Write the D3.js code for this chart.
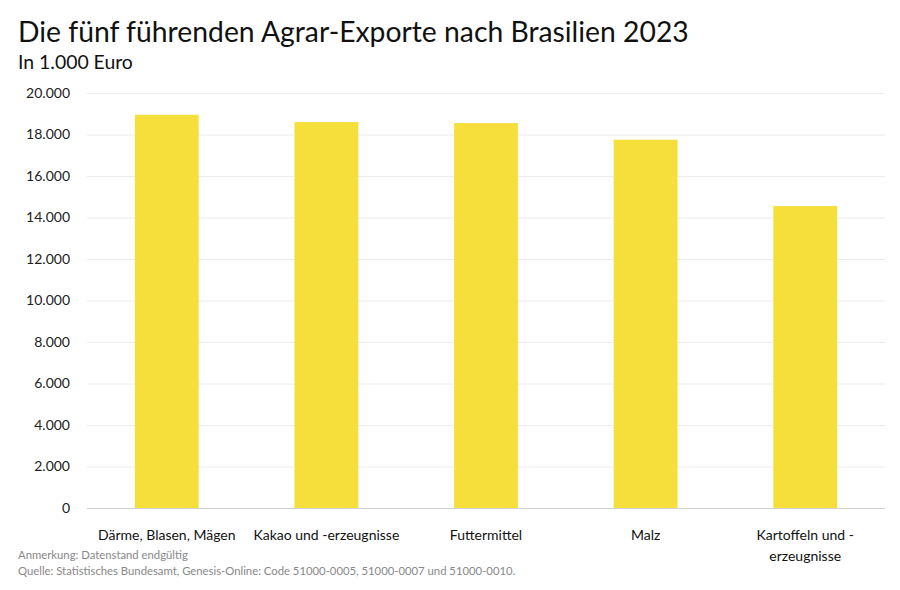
<!DOCTYPE html>
<html><head><meta charset="utf-8">
<script src="https://cdn.jsdelivr.net/npm/d3@7"></script>
<style>body{margin:0;background:#fff}svg{display:block}text{font-family:Lato,"Noto Sans",sans-serif}</style>
</head><body><svg id="c" width="900" height="590"></svg>
<script>
const categories = ["Därme, Blasen, Mägen","Kakao und -erzeugnisse","Futtermittel","Malz","Kartoffeln und -erzeugnisse"];
const categoryLines = [["Därme, Blasen, Mägen"],["Kakao und -erzeugnisse"],["Futtermittel"],["Malz"],["Kartoffeln und -","erzeugnisse"]];
const values = [18950, 18600, 18550, 17750, 14550];
const yTicks = [0,2000,4000,6000,8000,10000,12000,14000,16000,18000,20000];
const title = "Die fünf führenden Agrar-Exporte nach Brasilien 2023";
const subtitle = "In 1.000 Euro";
const notes = ["Anmerkung: Datenstand endgültig","Quelle: Statistisches Bundesamt, Genesis-Online: Code 51000-0005, 51000-0007 und 51000-0010."];

const svg = d3.select("#c");
const m = {l:87, r:885, t:93, b:508};
const x = d3.scaleBand().domain(categories).range([m.l,m.r]).paddingInner(0.6).paddingOuter(0.3);
const y = d3.scaleLinear().domain([0,20000]).range([m.b,m.t]);
const fmt = d3.formatLocale({decimal:",",thousands:".",grouping:[3],currency:["","€"]}).format(",d");

svg.append("text").attr("x",18).attr("y",42).attr("font-size",28.3).attr("fill","#111").text(title);
svg.append("text").attr("x",18).attr("y",69).attr("font-size",19.4).attr("fill","#111").text(subtitle);

const yAxis = svg.append("g").attr("transform",`translate(${m.l},0)`)
  .call(d3.axisLeft(y).tickValues(yTicks).tickFormat(fmt).tickSize(-(m.r-m.l)).tickPadding(17));
yAxis.select(".domain").remove();
yAxis.selectAll(".tick line").attr("stroke","#ececec");
yAxis.selectAll(".tick text").attr("font-size",14).attr("fill","#222");

svg.append("g").selectAll("rect").data(values).join("rect")
  .attr("x",(d,i)=>x(categories[i])).attr("width",x.bandwidth())
  .attr("y",d=>y(d)).attr("height",d=>y(0)-y(d)).attr("fill","#f7df3b");

svg.append("line").attr("x1",m.l).attr("x2",m.r).attr("y1",y(0)+0.5).attr("y2",y(0)+0.5).attr("stroke","#cfcfcf");

const xl = svg.append("g");
categories.forEach((c,i)=>{
  const t = xl.append("text").attr("x",x(c)+x.bandwidth()/2).attr("y",540).attr("text-anchor","middle").attr("font-size",14).attr("fill","#111");
  categoryLines[i].forEach((ln,j)=>t.append("tspan").attr("x",x(c)+x.bandwidth()/2).attr("dy",j?21:0).text(ln));
});

notes.forEach((n,i)=>svg.append("text").attr("x",18).attr("y",559+i*16).attr("font-size",11.3).attr("fill","#888").text(n));
</script></body></html>
